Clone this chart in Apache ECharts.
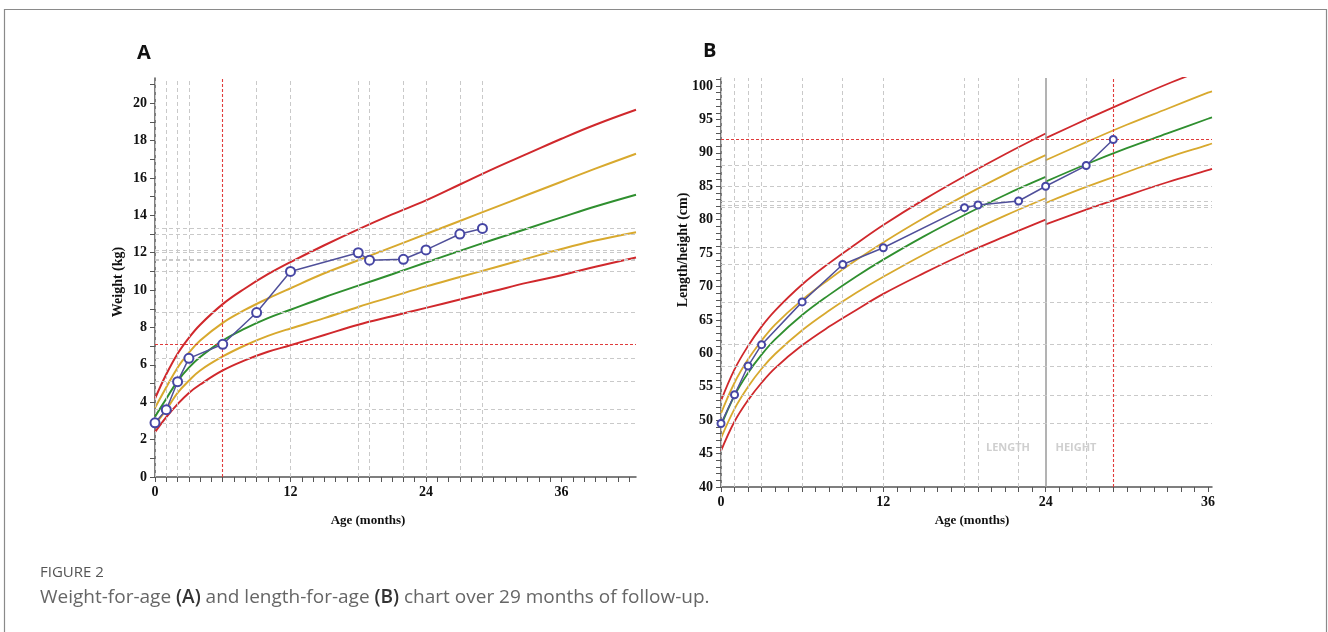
<!DOCTYPE html>
<html>
<head>
<meta charset="utf-8">
<script src="https://cdn.jsdelivr.net/npm/echarts@6/dist/echarts.min.js"></script>
<style>
  html, body { margin: 0; padding: 0; background: #fff; }
  #main { width: 1328px; height: 632px; }
</style>
</head>
<body>
<div id="main"></div>
<script>
// ages (months) for the reference curves, weight-for-age panel
var curveAgeW = [0, 1, 2, 3, 4, 6, 8, 10, 12, 15, 18, 21, 24, 27, 30, 33, 36, 39, 42.6];
var wM2 = [2.4, 3.2, 3.9, 4.5, 4.95, 5.7, 6.25, 6.7, 7.05, 7.6, 8.15, 8.6, 9.05, 9.5, 9.95, 10.4, 10.8, 11.25, 11.75];
var wM1 = [2.8, 3.6, 4.5, 5.15, 5.7, 6.45, 7.05, 7.55, 7.95, 8.5, 9.1, 9.65, 10.2, 10.7, 11.2, 11.7, 12.2, 12.65, 13.1];
var w0 = [3.23, 4.19, 5.13, 5.85, 6.42, 7.3, 7.95, 8.5, 8.95, 9.62, 10.24, 10.85, 11.48, 12.1, 12.71, 13.3, 13.89, 14.47, 15.1];
var wP1 = [3.7, 4.8, 5.85, 6.65, 7.3, 8.25, 8.95, 9.55, 10.1, 10.9, 11.6, 12.3, 13.0, 13.7, 14.4, 15.1, 15.8, 16.5, 17.3];
var wP2 = [4.2, 5.5, 6.6, 7.45, 8.15, 9.25, 10.1, 10.85, 11.5, 12.4, 13.25, 14.05, 14.8, 15.65, 16.5, 17.3, 18.1, 18.85, 19.65];

// length-for-age (0-24) and height-for-age (24-36) panel
var lengthAge = [0, 1, 2, 3, 4, 6, 8, 10, 12, 15, 18, 21, 24];
var lenM2 = [45.4, 49.8, 53.0, 55.6, 57.8, 61.2, 64.0, 66.5, 68.9, 72.0, 74.9, 77.5, 80.0];
var lenM1 = [47.3, 51.7, 55.0, 57.7, 59.9, 63.45, 66.4, 69.05, 71.45, 74.8, 77.8, 80.6, 83.2];
var len0 = [49.15, 53.69, 57.07, 59.8, 62.09, 65.73, 68.75, 71.5, 74.02, 77.5, 80.7, 83.7, 86.4];
var lenP1 = [51.0, 55.6, 59.1, 61.9, 64.3, 68.0, 71.1, 73.95, 76.6, 80.25, 83.6, 86.75, 89.65];
var lenP2 = [52.9, 57.6, 61.1, 64.0, 66.4, 70.3, 73.5, 76.4, 79.2, 83.0, 86.5, 89.8, 92.9];
var heightAge = [24, 27, 30, 33, 36, 36.3];
var htM2 = [79.3, 81.5, 83.6, 85.6, 87.4, 87.6];
var htM1 = [82.5, 84.9, 87.1, 89.3, 91.2, 91.4];
var ht0 = [85.7, 88.3, 90.7, 92.9, 95.1, 95.3];
var htP1 = [88.9, 91.6, 94.2, 96.6, 99.0, 99.2];
var htP2 = [92.2, 95.0, 97.7, 100.3, 102.7, 103.0];

// patient follow-up
var visitAge = [0, 1, 2, 3, 6, 9, 12, 18, 19, 22, 24, 27, 29];
var weight = [2.9, 3.6, 5.1, 6.35, 7.1, 8.8, 11.0, 12.0, 11.6, 11.65, 12.15, 13.0, 13.3];
var lengthCm = [49.5, 53.8, 58.1, 61.3, 67.7, 73.3, 75.8, 81.8, 82.2, 82.8, 85.0, 88.1, 92.0];
// highlighted visit in each panel (index into visitAge)
var markA = 4;
var markB = 12;

var RED = '#d0282c', GOLD = '#d8a92e', GREEN = '#2f8f2f', PT = '#50509a';
var serif = '"Liberation Serif", "DejaVu Serif", serif';
var sans = '"Open Sans", "Noto Sans", sans-serif';

var chart = echarts.init(document.getElementById('main'));

function pairs(xs, ys) {
    return xs.map(function (x, i) { return [x, ys[i]]; });
}
function broken(lv, hv) {
    // length part, a gap, then height part
    return pairs(lengthAge, lv).concat([[24, '-']]).concat(pairs(heightAge, hv));
}
function curve(name, data, color, idx, w) {
    return {
        name: name, type: 'line', data: data,
        xAxisIndex: idx, yAxisIndex: idx,
        smooth: 0.4, showSymbol: false, symbol: 'none',
        lineStyle: { color: color, width: w }, z: 3, silent: true, animation: false
    };
}
function guideSeries(idx, vals, skip, solidAge) {
    var d = [];
    visitAge.forEach(function (a, i) {
        if (i === skip) return;
        if (a === solidAge) {
            d.push({ xAxis: a, lineStyle: { color: '#9a9a9a', type: 'solid', width: 1.5 } });
        } else {
            d.push({ xAxis: a });
        }
    });
    vals.forEach(function (v, i) {
        if (i !== skip) d.push({ yAxis: v });
    });
    return {
        type: 'line', xAxisIndex: idx, yAxisIndex: idx,
        data: [], symbol: 'none', z: 1, silent: true, animation: false,
        markLine: {
            symbol: ['none', 'none'], silent: true, animation: false,
            label: { show: false },
            lineStyle: { color: '#c9c9c9', type: [4, 3], width: 1 },
            data: d
        }
    };
}
function redSeries(idx, vals, k) {
    return {
        type: 'line', xAxisIndex: idx, yAxisIndex: idx,
        data: [], symbol: 'none', z: 2, silent: true, animation: false,
        markLine: {
            symbol: ['none', 'none'], silent: true, animation: false,
            label: { show: false },
            lineStyle: { color: '#e03c3c', type: [3, 2], width: 1.1 },
            data: [{ xAxis: visitAge[k] }, { yAxis: vals[k] }]
        }
    };
}
function patient(idx, vals, size) {
    return {
        name: 'Patient', type: 'line', xAxisIndex: idx, yAxisIndex: idx,
        data: pairs(visitAge, vals),
        symbol: 'emptyCircle', symbolSize: size, z: 5, animation: false,
        lineStyle: { color: PT, width: 1.5 },
        itemStyle: { color: '#4646a4', borderWidth: 1.2 }
    };
}

function xAx(idx, max) {
    return {
        type: 'value', gridIndex: idx, min: 0, max: max, interval: 1,
        axisLine: { lineStyle: { color: '#555', width: 1.5 } },
        axisTick: { length: 5, lineStyle: { color: '#555' } },
        splitLine: { show: false },
        axisLabel: {
            margin: 8, color: '#111', fontFamily: serif, fontWeight: 'bold', fontSize: 14,
            showMaxLabel: false,
            formatter: function (v) { return v % 12 === 0 ? String(v) : ''; }
        }
    };
}
function yAx(idx, min, max, step) {
    return {
        type: 'value', gridIndex: idx, min: min, max: max, interval: 1,
        axisLine: { show: true, lineStyle: { color: '#555', width: 1.5 } },
        axisTick: { show: true, length: 5, lineStyle: { color: '#555' } },
        splitLine: { show: false },
        axisLabel: {
            margin: 8, color: '#111', fontFamily: serif, fontWeight: 'bold', fontSize: 14,
            showMaxLabel: false,
            formatter: function (v) { return v % step === 0 ? String(v) : ''; }
        }
    };
}

var option = {
    backgroundColor: '#ffffff',
    animation: false,
    grid: [
        { left: 155, top: 78, width: 481, height: 399 },
        { left: 721, top: 78, width: 491, height: 409 }
    ],
    xAxis: [xAx(0, 42.6), xAx(1, 36.3)],
    yAxis: [yAx(0, 0, 21.35, 2), yAx(1, 40, 101.2, 5)],
    series: [
        guideSeries(0, weight, markA, null),
        redSeries(0, weight, markA),
        curve('+2', pairs(curveAgeW, wP2), RED, 0, 2),
        curve('+1', pairs(curveAgeW, wP1), GOLD, 0, 2),
        curve('0', pairs(curveAgeW, w0), GREEN, 0, 2),
        curve('-1', pairs(curveAgeW, wM1), GOLD, 0, 2),
        curve('-2', pairs(curveAgeW, wM2), RED, 0, 2),
        patient(0, weight, 9),

        guideSeries(1, lengthCm, markB, 24),
        redSeries(1, lengthCm, markB),
        curve('+2', broken(lenP2, htP2), RED, 1, 1.8),
        curve('+1', broken(lenP1, htP1), GOLD, 1, 1.8),
        curve('0', broken(len0, ht0), GREEN, 1, 1.8),
        curve('-1', broken(lenM1, htM1), GOLD, 1, 1.8),
        curve('-2', broken(lenM2, htM2), RED, 1, 1.8),
        patient(1, lengthCm, 7)
    ],
    graphic: [
        { type: 'rect', shape: { x: 4.5, y: 9.5, width: 1322, height: 640 },
          style: { fill: 'none', stroke: '#8a8a8a', lineWidth: 1.2 }, silent: true },
        { type: 'text', left: 137, top: 43, style: { text: 'A', font: 'bold 20px ' + sans, fill: '#111' } },
        { type: 'text', left: 703, top: 41, style: { text: 'B', font: 'bold 20px ' + sans, fill: '#111' } },
        { type: 'text', x: 118, y: 282, rotation: Math.PI / 2,
          style: { text: 'Weight (kg)', font: 'bold 14px ' + serif, fill: '#111', align: 'center', verticalAlign: 'middle' } },
        { type: 'text', x: 368, y: 521,
          style: { text: 'Age (months)', font: 'bold 13px ' + serif, fill: '#111', align: 'center', verticalAlign: 'middle' } },
        { type: 'text', x: 683, y: 250, rotation: Math.PI / 2,
          style: { text: 'Length/height (cm)', font: 'bold 14px ' + serif, fill: '#111', align: 'center', verticalAlign: 'middle' } },
        { type: 'text', x: 972, y: 521,
          style: { text: 'Age (months)', font: 'bold 13px ' + serif, fill: '#111', align: 'center', verticalAlign: 'middle' } },
        { type: 'text', x: 1008, y: 448,
          style: { text: 'LENGTH', font: 'bold 11px ' + sans, fill: '#cfcfcf', align: 'center', verticalAlign: 'middle' } },
        { type: 'text', x: 1076, y: 448,
          style: { text: 'HEIGHT', font: 'bold 11px ' + sans, fill: '#cfcfcf', align: 'center', verticalAlign: 'middle' } },
        { type: 'text', left: 40, top: 565,
          style: { text: 'FIGURE 2', font: '15px ' + sans, fill: '#555' } },
        { type: 'text', left: 40, top: 588,
          style: {
              text: 'Weight-for-age {b|(A)} and length-for-age {b|(B)} chart over 29 months of follow-up.',
              font: '19px ' + sans, fill: '#666',
              rich: { b: { font: '600 19px ' + sans, fill: '#333' } }
          } }
    ]
};
chart.setOption(option);
</script>
</body>
</html>
